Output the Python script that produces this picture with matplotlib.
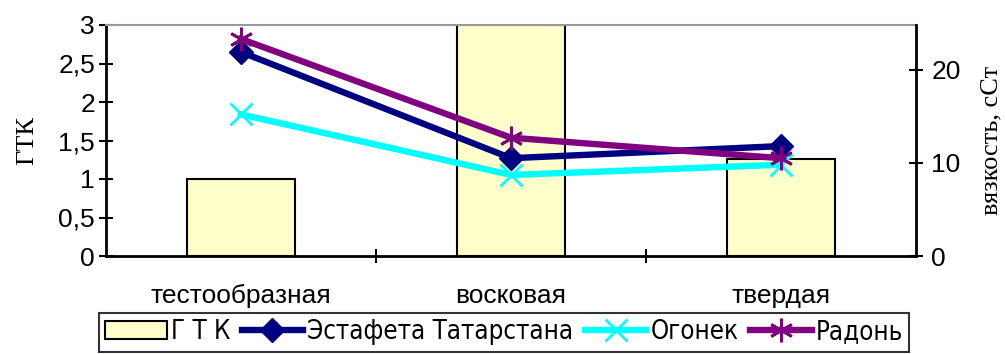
import matplotlib
matplotlib.use("Agg")
import matplotlib.pyplot as plt
from matplotlib import font_manager
from matplotlib.font_manager import FontProperties
from matplotlib.ft2font import FT2Font

categories = ["тестообразная", "восковая", "твердая"]
gtk = [1.0, 3.0, 1.26]
estafeta = [21.9, 10.5, 11.8]
ogonek = [15.2, 8.7, 9.8]
radon = [23.3, 12.7, 10.5]
legend_labels = ["Г Т К", "Эстафета Татарстана", "Огонек", "Радонь"]


def covers(path, text):
    try:
        cmap = FT2Font(path).get_charmap()
    except Exception:
        return False
    return all(ord(c) in cmap for c in text if not c.isspace())


# pick a narrow sans face with Cyrillic for the legend, if one is installed
needed = "".join(legend_labels)
legend_font = {"family": ["Liberation Sans", "DejaVu Sans"]}
for f in font_manager.fontManager.ttflist:
    narrow_face = ("Narrow" in f.name or "Condensed" in f.name
                   or f.stretch in ("condensed", "semi-condensed", 300, 400))
    if narrow_face and f.style == "normal" and f.weight in ("normal", "regular", 400) \
            and "Mono" not in f.name and "Serif" not in f.name and covers(f.fname, needed):
        legend_font = {"fname": f.fname}
        break

plt.rcParams["font.family"] = ["Liberation Sans", "DejaVu Sans"]

fig = plt.figure(figsize=(10.05, 3.54), dpi=100)
ax = fig.add_axes([106 / 1005, 1 - 256 / 354, 810 / 1005, 231 / 354])
x = list(range(len(categories)))

bars = ax.bar(x, gtk, width=0.4, color="#FFFFCC", edgecolor="black", linewidth=1.5,
              label=legend_labels[0], zorder=2)
ax.set_xlim(-0.5, 2.5)
ax.set_ylim(0, 3)
ax.set_yticks([0, 0.5, 1, 1.5, 2, 2.5, 3])
ax.set_yticklabels(["0", "0,5", "1", "1,5", "2", "2,5", "3"])
ax.set_xticks(x)
ax.set_xticklabels(categories, fontsize=19)
ax.set_xticks([0.5, 1.5], minor=True)
ax.tick_params(axis="x", which="major", length=0, pad=20)
ax.tick_params(axis="x", which="minor", direction="inout", length=10, width=1.5)
ax.tick_params(axis="y", direction="inout", length=10, width=1.5, labelsize=19, pad=3)
ax.set_ylabel("ГТК", family=["Liberation Serif"], fontsize=19, labelpad=14)
for s in ["left", "bottom"]:
    ax.spines[s].set_linewidth(2)
ax.spines["top"].set_color("#999999")
ax.spines["top"].set_linewidth(1.5)
ax.spines["right"].set_visible(False)

ax2 = ax.twinx()
ax2.set_ylim(0, 24.8)
ax2.set_yticks([0, 10, 20])
ax2.tick_params(axis="y", direction="inout", length=10, width=1.5, labelsize=19, pad=6)
for s in ["left", "top", "bottom"]:
    ax2.spines[s].set_visible(False)
ax2.spines["right"].set_linewidth(2)
ax2.set_ylabel("вязкость, сСт", family=["Liberation Serif"], fontsize=19, labelpad=14)

l1, = ax2.plot(x, estafeta, color="#000080", lw=4.6, marker="D", ms=12,
               label=legend_labels[1], zorder=3)
l2, = ax2.plot(x, ogonek, color="#00FFFF", lw=4.6, marker="x", ms=16, mew=2,
               label=legend_labels[2], zorder=3)
l3, = ax2.plot(x, radon, color="#800080", lw=4.6, marker=(6, 2, 0), ms=17, mew=2,
               label=legend_labels[3], zorder=4)

handles = [bars, l1, l2, l3]
box = (86 / 1005, -0.03, 836 / 1005, 44 / 354)
renderer = fig.canvas.get_renderer()
size = 20
while True:
    leg = fig.legend(handles, legend_labels, loc="lower center",
                     bbox_to_anchor=(box[0] + box[2] / 2, box[1]),
                     ncol=4, frameon=False, borderpad=0.25,
                     handlelength=2.4, handletextpad=0.15, columnspacing=0.5,
                     prop=FontProperties(size=size, **legend_font))
    w = leg.get_window_extent(renderer).width
    leg.remove()
    if w <= 820 or size <= 10:
        break
    size -= 0.5

leg = fig.legend(handles, legend_labels, loc="lower left", bbox_to_anchor=box,
                 mode="expand", ncol=4, frameon=True, fancybox=False, borderpad=0.25,
                 handlelength=2.4, handletextpad=0.15, columnspacing=0.5,
                 prop=FontProperties(size=size, **legend_font))
leg.get_frame().set_edgecolor("black")
leg.get_frame().set_linewidth(1.5)

fig.savefig("out.png", dpi=100)
